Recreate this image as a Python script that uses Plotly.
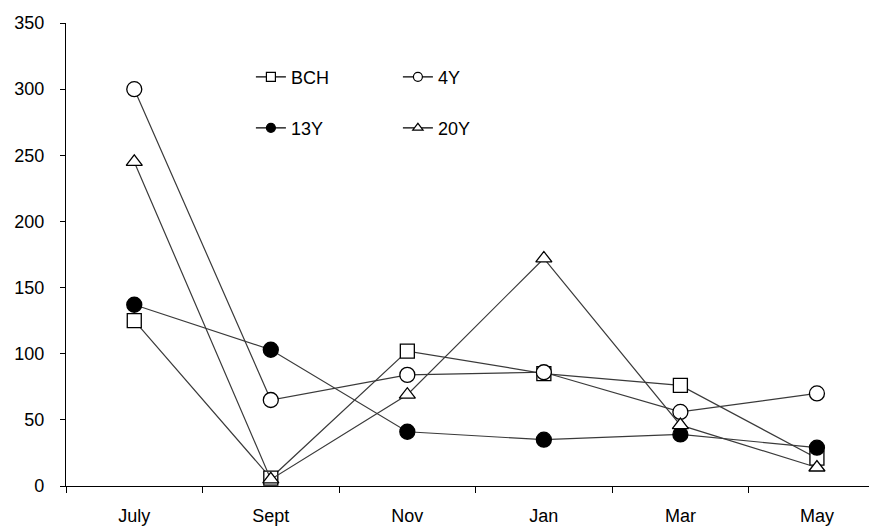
import plotly.graph_objects as go

months = ["July", "Sept", "Nov", "Jan", "Mar", "May"]
bch = [125, 6, 102, 85, 76, 21]
y4 = [300, 65, 84, 86, 56, 70]
y13 = [137, 103, 41, 35, 39, 29]
y20 = [245, 5, 69, 172, 46, 14]
y_ticks = [0, 50, 100, 150, 200, 250, 300, 350]

FONT = "Liberation Sans, Arial, sans-serif"
LINE = dict(color="#3a3a3a", width=1.2)

series = [
    ("BCH", bch, "square", "white", 14, "legend"),
    ("4Y", y4, "circle", "white", 15, "legend"),
    ("13Y", y13, "circle", "black", 15, "legend2"),
    ("20Y", y20, "triangle-up", "white", 14, "legend2"),
]

fig = go.Figure()
for name, vals, sym, fill, size, lg in series:
    fig.add_trace(go.Scatter(
        x=months, y=vals, mode="lines+markers", name=name,
        line=LINE, showlegend=False,
        marker=dict(symbol=sym, size=size, color=fill,
                    line=dict(color="black", width=1.3)),
    ))
for name, vals, sym, fill, size, lg in series:
    fig.add_trace(go.Scatter(
        x=[None], y=[None], mode="lines+markers", name=name,
        line=dict(color="black", width=1.2), legend=lg,
        marker=dict(symbol=sym, size=9, color=fill,
                    line=dict(color="black", width=1.2)),
    ))

legend_common = dict(
    orientation="h", xanchor="left", yanchor="middle",
    bgcolor="rgba(0,0,0,0)", entrywidth=102, entrywidthmode="pixels",
    font=dict(family=FONT, size=18, color="black"), itemwidth=30,
)

fig.update_layout(
    width=869, height=521,
    margin=dict(l=58, r=0, t=15, b=43),
    paper_bgcolor="white", plot_bgcolor="white",
    font=dict(family=FONT, size=18, color="black"),
    legend=dict(x=0.228, y=0.883, **legend_common),
    legend2=dict(x=0.228, y=0.773, **legend_common),
    xaxis=dict(
        type="category", range=[-0.5, 5.44], tickson="boundaries",
        showline=True, linecolor="black", linewidth=1.2,
        ticks="outside", ticklen=6, tickcolor="black", tickwidth=1.2,
        showgrid=False, zeroline=False, ticklabelstandoff=13,
        tickfont=dict(family=FONT, size=18, color="black"),
    ),
    yaxis=dict(
        range=[0, 350], tickvals=y_ticks,
        showline=True, linecolor="black", linewidth=1.2,
        ticks="outside", ticklen=5, tickcolor="black", tickwidth=1.2,
        showgrid=False, zeroline=False, ticklabelstandoff=12,
        tickfont=dict(family=FONT, size=18, color="black"),
    ),
)

fig.write_html("out.html")
